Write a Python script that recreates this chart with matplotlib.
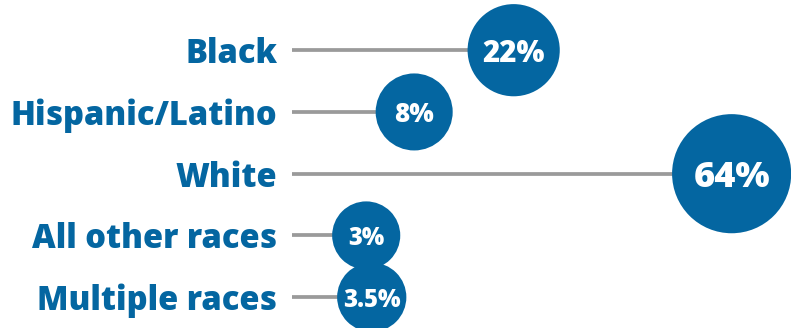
import numpy as np
import matplotlib.pyplot as plt

groups = ['Black', 'Hispanic/Latino', 'White', 'All other races', 'Multiple races']
shares = [22, 8, 64, 3, 3.5]

blue = '#0466a1'
grey = '#9a9a9a'
font = 'Open Sans'

# compressed power scale so the big value still fits
p = 0.7
fwd = lambda v: np.sign(v) * np.abs(v) ** p
inv = lambda f: np.sign(f) * np.abs(f) ** (1 / p)

fig = plt.figure(figsize=(7.91, 3.28), dpi=100)
ax = fig.add_axes([292 / 791, 0, 1 - 292 / 791, 1])
ax.set_xscale('function', functions=(fwd, inv))
ax.set_xlim(-1.2, 77.5)
ax.set_ylim(4.499, -0.813)

ypos = np.arange(len(groups))
vals = np.array(shares, dtype=float)

# circle radius in pixels grows with sqrt of the share
r_px = 27 + 4.07 * np.sqrt(vals)
sizes = (2 * r_px * 0.72) ** 2

ax.hlines(ypos, ax.get_xlim()[0], vals, color=grey, lw=2.7, zorder=1)
ax.scatter(vals, ypos, s=sizes, color=blue, linewidths=0, zorder=2, clip_on=False)

for v, y, r in zip(vals, ypos, r_px):
    ax.text(v, y, f'{v:g}%', ha='center', va='center_baseline', color='white',
            fontsize=5 + 0.353 * r, fontweight='heavy', family=font, zorder=3)

ax.set_yticks(ypos)
ax.set_yticklabels(groups, fontsize=23.5, fontweight='heavy', family=font, color=blue)
ax.tick_params(axis='y', length=0, pad=10.8)
ax.set_xticks([])
ax.minorticks_off()
for s in ax.spines.values():
    s.set_visible(False)
ax.patch.set_alpha(0)

fig.savefig('out.png', dpi=100)
